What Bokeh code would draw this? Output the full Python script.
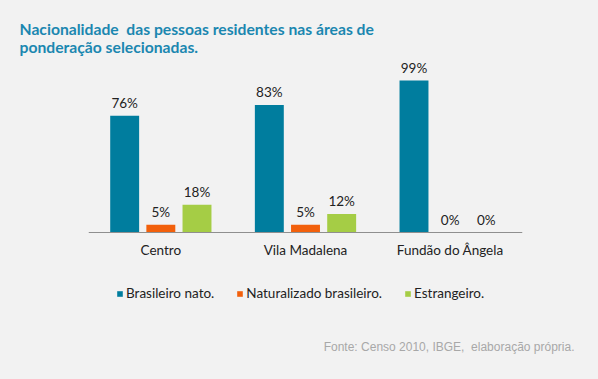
from bokeh.plotting import figure
from bokeh.models import ColumnDataSource, FactorRange, Range1d, Legend, LegendItem, Title
from bokeh.transform import dodge
from bokeh.core.properties import value
from bokeh.embed import file_html
from bokeh.resources import INLINE

categories = ["Centro", "Vila Madalena", "Fundão do Ângela"]
series_names = ["Brasileiro nato.", "Naturalizado brasileiro.", "Estrangeiro."]
brasileiro_nato = [76, 83, 99]
naturalizado = [5, 5, 0]
estrangeiro = [18, 12, 0]

colors = ["#007d9e", "#f2600c", "#a5cd45"]
bg = "#f2f2f2"

src = ColumnDataSource(dict(
    cat=categories,
    nato=brasileiro_nato,
    nat=naturalizado,
    est=estrangeiro,
    nato_lbl=[f"{v}%" for v in brasileiro_nato],
    nat_lbl=[f"{v}%" for v in naturalizado],
    est_lbl=[f"{v}%" for v in estrangeiro],
))

W, H = 598, 379
PX_PER_UNIT = 1.535
TOP, BASE, BORDER_BOTTOM = 60, 232, 42
BOTTOM = H - BORDER_BOTTOM
p = figure(width=W, height=H, x_range=FactorRange(*categories, range_padding=0),
           y_range=Range1d(-(BOTTOM - BASE) / PX_PER_UNIT, (BASE - TOP) / PX_PER_UNIT),
           output_backend="svg", toolbar_location=None,
           min_border_left=88, min_border_right=76, min_border_top=TOP,
           min_border_bottom=BORDER_BOTTOM)
p.background_fill_color = None
p.border_fill_color = None
p.outline_line_color = None
p.xgrid.visible = False
p.ygrid.visible = False
p.yaxis.visible = False

p.title.text = "Nacionalidade\u00a0 das pessoas residentes nas áreas de\nponderação selecionadas."
p.title.align = "left"
p.title.offset = -69
p.title.standoff = 10
p.title.text_font = "Lato"
p.title.text_font_size = "15.7px"
p.title.text_font_style = "bold"
p.title.text_color = "#1b87b0"

xa = p.xaxis[0]
xa.fixed_location = 0
xa.axis_line_color = "#8f8f8f"
xa.axis_line_width = 1
xa.major_tick_line_color = None
xa.minor_tick_line_color = None
xa.major_tick_out = 0
xa.major_label_standoff = 9
xa.major_label_text_font = "Lato"
xa.major_label_text_font_size = "13.5px"
xa.major_label_text_color = "#222222"

offsets = [-0.25, 0.0, 0.25]
fields = ["nato", "nat", "est"]
renderers = []
for off, f, c in zip(offsets, fields, colors):
    r = p.vbar(x=dodge("cat", off, range=p.x_range), top=f, width=0.2, source=src,
               fill_color=c, line_color=None)
    renderers.append(r)
    p.text(x=dodge("cat", off, range=p.x_range), y=f, text=f + "_lbl", source=src,
           text_align="center", text_baseline="bottom", y_offset=-5,
           text_font=value("Lato"), text_font_size="13.5px", text_color="#222222")

legend = Legend(items=[LegendItem(label=n, renderers=[r]) for n, r in zip(series_names, renderers)],
                orientation="horizontal", location=(28, BOTTOM - 301),
                glyph_width=7, glyph_height=7, label_standoff=3, spacing=22,
                padding=0, margin=0, border_line_color=None, background_fill_alpha=0,
                label_text_font="Lato", label_text_font_size="13.5px", label_text_color="#222222",
                label_height=14)
p.add_layout(legend, "center")

p.add_layout(Title(text="Fonte: Censo 2010, IBGE,\u00a0 elaboração própria.", align="right",
                   offset=-52, standoff=0, text_font="Liberation Sans", text_font_size="12px",
                   text_font_style="normal", text_color="#a8a8a8"), "below")

html = file_html(p, INLINE)
html = html.replace("</head>", "<style>html, body { background: %s !important; }</style></head>" % bg, 1)
open("out.html", "w").write(html)
